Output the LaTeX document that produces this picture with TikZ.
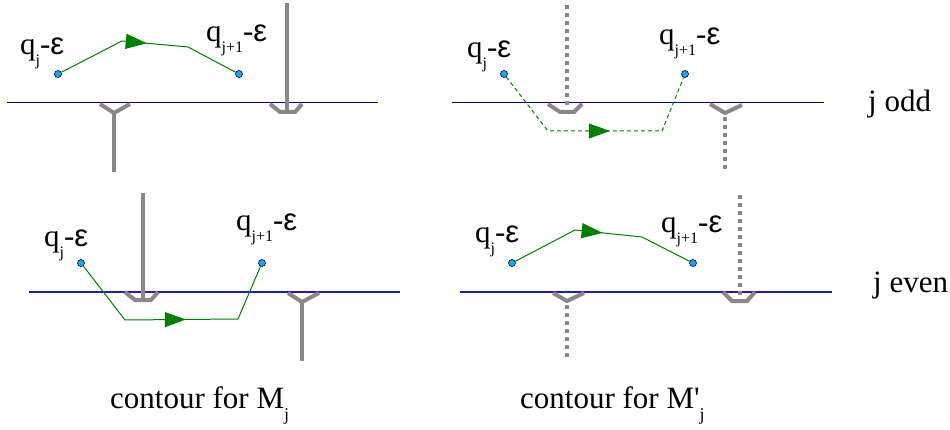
\documentclass[tikz,border=0pt]{standalone}
\usepackage{fontspec}
\setmainfont{Liberation Serif}
\newfontfamily\epsfont{Liberation Sans}
\usepackage{xcolor}
\usetikzlibrary{arrows.meta,decorations.markings,backgrounds}

\definecolor{cutgray}{RGB}{136,136,136}
\definecolor{axisnavy}{RGB}{0,0,128}
\definecolor{axisblue}{RGB}{30,30,170}
\definecolor{ptblue}{RGB}{20,170,230}

\newcommand{\qlab}[1]{q\raisebox{-11pt}{\fontsize{16}{16}\selectfont #1}-{\epsfont ε}}
\newcommand{\subj}{\raisebox{-12pt}{\fontsize{18}{18}\selectfont j}}

\begin{document}
\begin{tikzpicture}[
    x=1pt, y=-1pt,
    axis/.style={line width=1pt},
    cut/.style={draw=cutgray, line width=4pt},
    cutdot/.style={cut, dash pattern=on 4pt off 4pt},
    contour/.style={draw=green!50!black, line width=1pt, postaction={decorate}},
    tipat/.style={decoration={markings, mark=at position #1 with
                  {\arrow[green!50!black]{Triangle[length=21pt,width=15pt]}}}},
    pt/.style={circle, draw=black!70!blue, fill=ptblue, line width=0.6pt,
               inner sep=0pt, minimum size=7pt},
    qlbl/.style={anchor=base west, inner sep=0pt, font=\fontsize{31}{31}\selectfont},
    txt/.style={anchor=base west, inner sep=0pt, font=\fontsize{31}{31}\selectfont}
]
\useasboundingbox (0,0) rectangle (950,430);

% ---- End points ----
\node[pt] (tlA) at (58,74)   {};
\node[pt] (tlB) at (239,74)  {};
\node[pt] (trA) at (504,74)  {};
\node[pt] (trB) at (685,74)  {};
\node[pt] (blA) at (81,263)  {};
\node[pt] (blB) at (262,263) {};
\node[pt] (brA) at (512,263) {};
\node[pt] (brB) at (693,263) {};

% ---- Bends of the contours ----
\coordinate (tl1) at (122,41);  \coordinate (tl2) at (188,47);
\coordinate (tr1) at (548,131); \coordinate (tr2) at (662,131);
\coordinate (bl1) at (125,320); \coordinate (bl2) at (238,319);
\coordinate (br1) at (575,230); \coordinate (br2) at (642,237);

\begin{scope}[on background layer]
% ---- Real axes ----
\draw[axis, axisnavy] (7,103)   -- (378,103);
\draw[axis, axisnavy] (452,103) -- (824,103);
\draw[axis, axisblue] (29,292)  -- (400,292);
\draw[axis, axisblue] (460,292) -- (832,292);

% ---- Branch cuts, top left (solid) ----
\draw[cut] (100,104) -- (114,113) -- (130,104);
\draw[cut] (114,113) -- (114,172);
\draw[cut] (287,3) -- (287,111);
\draw[cut] (270,104) -- (280,112) -- (295,112) -- (302,104);

% ---- Branch cuts, top right (dotted) ----
\draw[cutdot] (567,5) -- (567,108);
\draw[cut] (548,104) -- (560,112) -- (574,112) -- (582,104);
\draw[cut] (710,104) -- (725,113) -- (742,105);
\draw[cutdot] (725,117) -- (725,170);

% ---- Branch cuts, bottom left (solid) ----
\draw[cut] (143,193) -- (143,300);
\draw[cut] (125,292) -- (135,300) -- (151,300) -- (158,292);
\draw[cut] (288,293) -- (302,302) -- (319,293);
\draw[cut] (302,302) -- (302,361);

% ---- Branch cuts, bottom right (dotted) ----
\draw[cut] (553,293) -- (567,301) -- (584,293);
\draw[cutdot] (567,305) -- (567,358);
\draw[cutdot] (740,195) -- (740,298);
\draw[cut] (723,292) -- (732,301) -- (747,301) -- (755,292);

% ---- Contours ----
\draw[contour, tipat=93pt] (tlA) -- (tl1) -- (tl2) -- (tlB);
\draw[contour, dash pattern=on 4pt off 3pt, tipat=130pt] (trA) -- (tr1) -- (tr2) -- (trB);
\draw[contour, tipat=129pt] (blA) -- (bl1) -- (bl2) -- (blB);
\draw[contour, tipat=95pt] (brA) -- (br1) -- (br2) -- (brB);
\end{scope}

% ---- Point labels ----
\node[qlbl] (tlAl) at (20,55)  {\qlab{j}};
\node[qlbl] (tlBl) at (206,42) {\qlab{j+1}};
\node[qlbl] (trAl) at (467,58) {\qlab{j}};
\node[qlbl] (trBl) at (659,45) {\qlab{j+1}};
\node[qlbl] (blAl) at (44,247) {\qlab{j}};
\node[qlbl] (blBl) at (236,231) {\qlab{j+1}};
\node[qlbl] (brAl) at (475,243) {\qlab{j}};
\node[qlbl] (brBl) at (661,233) {\qlab{j+1}};

% ---- Row and column captions ----
\node[txt] (odd)  at (868,112) {j odd};
\node[txt] (even) at (873,292) {j even};
\node[txt] (capM)  at (110,408) {contour for M\subj};
\node[txt] (capMp) at (520,408) {contour for M\textquotesingle\subj};

\end{tikzpicture}
\end{document}
